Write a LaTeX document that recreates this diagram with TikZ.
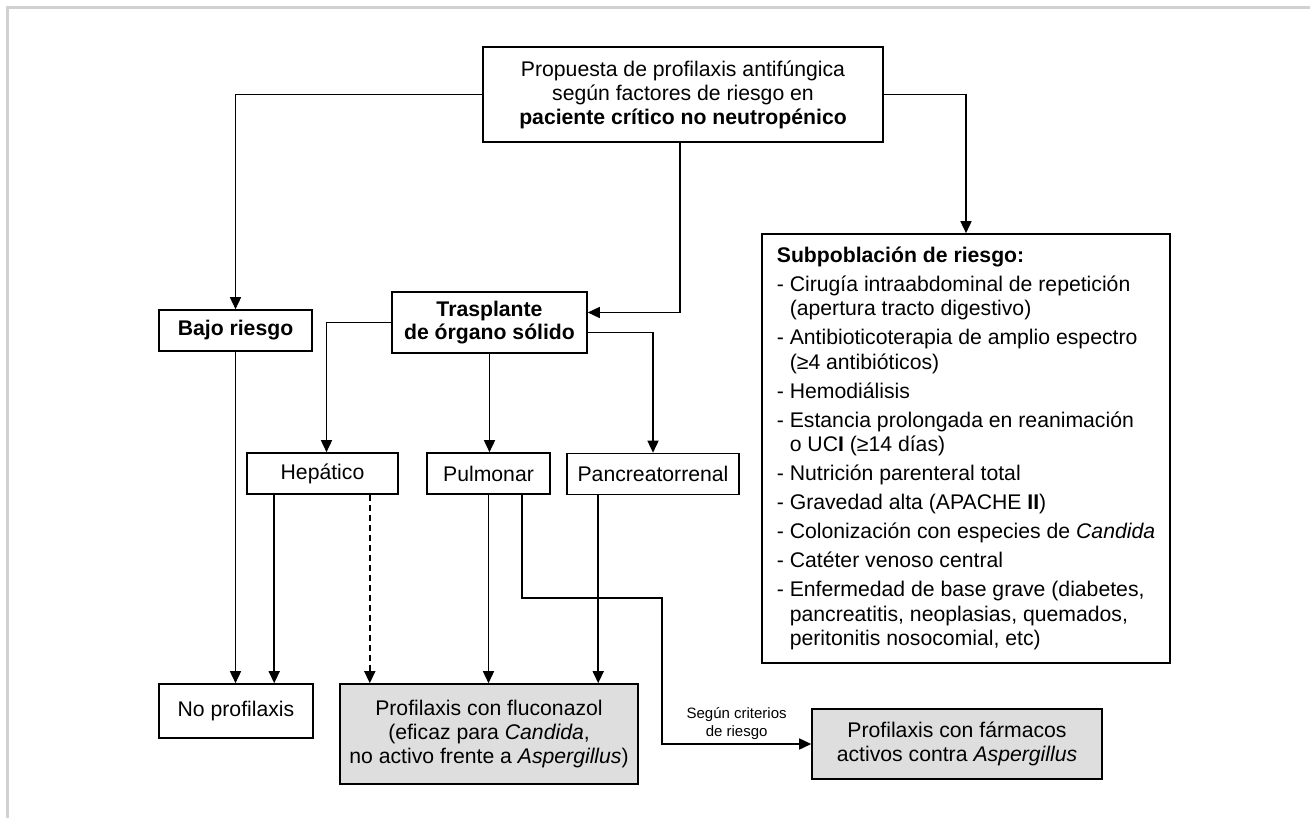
\documentclass[tikz,border=0pt]{standalone}
\usepackage{fontspec}
\setmainfont{Liberation Sans}
\usetikzlibrary{arrows.meta}
\definecolor{relleno}{gray}{0.87}
\definecolor{marco}{gray}{0.82}

\begin{document}
\begin{tikzpicture}[x=0.5pt, y=-0.5pt,
  caja/.style={draw, line width=.8pt, inner sep=0pt, align=center, font=\fontsize{10.6}{12}\selectfont},
  negrita/.style={font=\fontsize{10.6}{11.5}\selectfont\bfseries},
  flecha/.style={arrows={-Triangle[length=6pt,width=5.5pt]}, line width=.75pt}]
\useasboundingbox (0,0) rectangle (1310,818);
\draw[marco, line width=1.3pt] (7.5,818) -- (7.5,7.8) -- (1310,7.8);

\node[caja, minimum width=200pt, minimum height=47.5pt] at (683,94.5) (propuesta)
  {Propuesta de profilaxis antifúngica\\según factores de riesgo en\\\textbf{paciente crítico no neutropénico}};
\node[caja, negrita, minimum width=76.5pt, minimum height=20.5pt] at (235.5,330.5) (bajoR) {Bajo riesgo};
\node[caja, negrita, minimum width=97.5pt, minimum height=30.5pt] at (489.5,322.5) (trasplante)
  {Trasplante\\de órgano sólido};

%risk list
\node[caja, align=left, minimum width=204pt, minimum height=214.5pt,
  font=\fontsize{10.6}{12.25}\selectfont] at (966,448.5) (subpob)
  {\textbf{Subpoblación de riesgo:}\\[2pt]
   - Cirugía intraabdominal de repetición\\
   \phantom{- }(apertura tracto digestivo)\\[2.25pt]
   - Antibioticoterapia de amplio espectro\\
   \phantom{- }(≥4 antibióticos)\\[2.25pt]
   - Hemodiálisis\\[2.25pt]
   - Estancia prolongada en reanimación\\
   \phantom{- }o UC\textbf{I} (≥14 días)\\[2.25pt]
   - Nutrición parenteral total\\[2.25pt]
   - Gravedad alta (APACHE \textbf{II})\\[2.25pt]
   - Colonización con especies de \textit{Candida}\\[2.25pt]
   - Catéter venoso central\\[2.25pt]
   - Enfermedad de base grave (diabetes,\\
   \phantom{- }pancreatitis, neoplasias, quemados,\\
   \phantom{- }peritonitis nosocomial, etc)};

\node[caja, minimum width=75.5pt, minimum height=20.5pt] at (322.5,473.5) (hepatico) {Hepático};
\node[caja, minimum width=61.5pt, minimum height=20.5pt] at (488.5,473.5) (pulmonar) {Pulmonar};
\node[caja, minimum width=86pt, minimum height=20.5pt] at (653,474) (pancreas) {Pancreatorrenal};

\node[caja, minimum width=77pt, minimum height=27pt] at (236,711) (noProf) {No profilaxis};
\node[caja, fill=relleno, minimum width=149pt, minimum height=50pt] at (489,734) (fluco)
  {Profilaxis con fluconazol\\(eficaz para \textit{Candida},\\no activo frente a \textit{Aspergillus})};
\node[caja, fill=relleno, minimum width=145pt, minimum height=35pt] at (957,744) (asperg)
  {Profilaxis con fármacos\\activos contra \textit{Aspergillus}};

\coordinate (hepA) at ([xshift=14pt]hepatico.south west);
\coordinate (hepB) at ([xshift=-14.5pt]hepatico.south east);
\coordinate (pulB) at ([xshift=-14.5pt]pulmonar.south east);
\coordinate (panA) at ([xshift=16pt]pancreas.south west);
\coordinate (codo) at (662,598);

%top box out
\draw[flecha] (propuesta.west) -| (bajoR.north);
\draw[flecha] (propuesta.east) -| (subpob.north);
\draw[flecha] ([xshift=-1.5pt]propuesta.south) |- ([yshift=5pt]trasplante.east);

%transplant types
\draw[flecha] (trasplante.west) -| ([xshift=2pt]hepatico.north);
\draw[flecha] (trasplante.south) -- (trasplante.south |- pulmonar.north);
\draw[flecha] ([yshift=-5pt]trasplante.east) -| (pancreas.north);

%to the bottom row
\draw[flecha] (bajoR.south) -- (bajoR.south |- noProf.north);
\draw[flecha] (hepA) -- (hepA |- noProf.north);
\draw[flecha, dash pattern=on 3pt off 2pt] (hepB) -- (hepB |- fluco.north);
\draw[flecha] (pulmonar.south) -- (pulmonar.south |- fluco.north);
\draw[flecha] (panA) -- (panA |- fluco.north);
\draw[flecha] (pulB) |- (codo)
  |- node[pos=.75, above, inner sep=2pt, align=center, font=\fontsize{7.5}{9}\selectfont]
  {Según criterios\\de riesgo} (asperg.west);

\end{tikzpicture}
\end{document}
